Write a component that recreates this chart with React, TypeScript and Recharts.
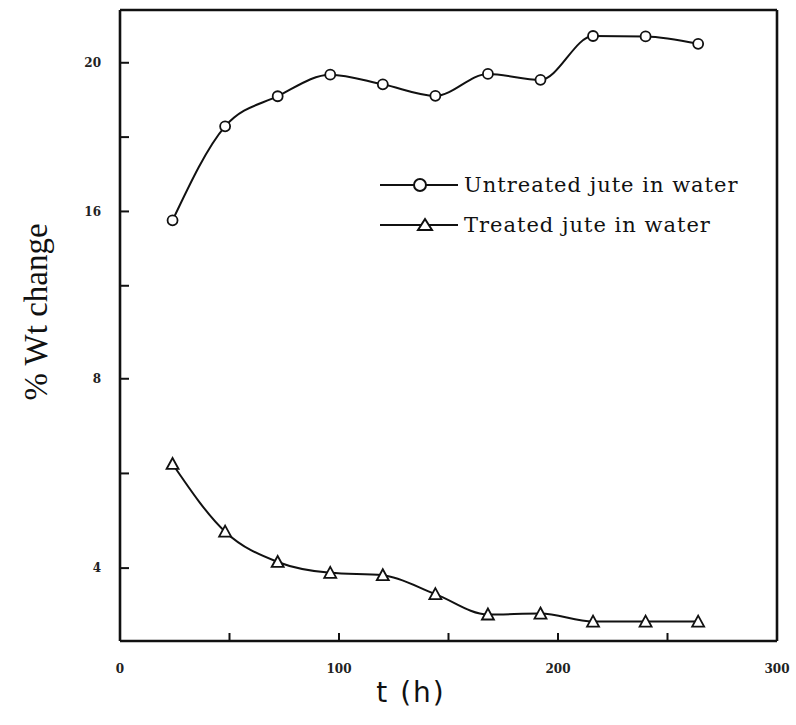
import { LineChart, Line, XAxis, YAxis, Legend } from 'recharts';

// sampling times (h) and % weight change
const hours = [24, 48, 72, 96, 120, 144, 168, 192, 216, 240, 264];
const untreated = [15.76, 18.29, 19.1, 19.68, 19.42, 19.11, 19.7, 19.54, 20.72, 20.71, 20.51];
const treated = [6.2, 4.77, 4.13, 3.9, 3.85, 3.45, 3.02, 3.04, 2.87, 2.87, 2.87];

const xTicks = [0, 50, 100, 150, 200, 250, 300];
const upperTicks = [14, 16, 18, 20];
const lowerTicks = [4, 6, 8];
// the y axis is broken between 14 and 8, so two stacked panels
const upperDomain = [12.81, 21.42];
const lowerDomain = [2.46, 9.03];

const upperData = hours.map((t, i) => ({ t, v: untreated[i] }));
const lowerData = hours.map((t, i) => ({ t, v: treated[i] }));

const INK = '#111';
const axisLine = { stroke: INK, strokeWidth: 2.6 };
const tickLine = { stroke: INK, strokeWidth: 2 };
const tickFont = { fontSize: 12, fill: '#222', fontFamily: 'DejaVu Serif', fontWeight: 700 };

const yLabel = (v: number) => (v % 4 === 0 ? String(v) : '');
const xLabel = (v: number) => (v % 100 === 0 ? String(v) : '');

const CircleDot = (props: any) => {
  const { cx, cy, index } = props;
  if (cx == null || cy == null) return <g key={`c-${index}`} />;
  return <circle key={`c-${index}`} cx={cx} cy={cy} r={5} fill="#fff" stroke={INK} strokeWidth={1.8} />;
};

const TriangleDot = (props: any) => {
  const { cx, cy, index } = props;
  if (cx == null || cy == null) return <g key={`t-${index}`} />;
  return (
    <path
      key={`t-${index}`}
      d={`M${cx},${cy - 6} L${cx + 6},${cy + 5} L${cx - 6},${cy + 5} Z`}
      fill="#fff"
      stroke={INK}
      strokeWidth={1.8}
    />
  );
};

const LegendBox = () => {
  const rows = [
    { name: 'Untreated jute in water', shape: 'circle' },
    { name: 'Treated jute in water', shape: 'triangle' },
  ];
  return (
    <div>
      {rows.map(r => (
        <div key={r.name} style={{ display: 'flex', alignItems: 'center', height: 40 }}>
          <svg width={86} height={20}>
            <line x1={5} x2={83} y1={10} y2={10} stroke={INK} strokeWidth={2} />
            {r.shape === 'circle' ? (
              <circle cx={45} cy={10} r={6} fill="#fff" stroke={INK} strokeWidth={2} />
            ) : (
              <path d="M50,4 L57,15 L43,15 Z" fill="#fff" stroke={INK} strokeWidth={2} />
            )}
          </svg>
          <span
            style={{
              fontFamily: 'DejaVu Serif',
              fontSize: 21,
              letterSpacing: 1,
              color: INK,
              marginLeft: 3,
              whiteSpace: 'nowrap',
            }}
          >
            {r.name}
          </span>
        </div>
      ))}
    </div>
  );
};

export default function App() {
  return (
    <div style={{ position: 'absolute', left: 0, top: 0, width: 796, height: 725, background: '#fff' }}>
      <div style={{ position: 'absolute', left: 0, top: 0 }}>
        <LineChart width={796} height={330} data={upperData} margin={{ top: 0, right: 0, bottom: 0, left: 60 }}>
          <XAxis
            dataKey="t"
            type="number"
            orientation="top"
            height={10}
            domain={[0, 300]}
            ticks={xTicks}
            tick={false}
            tickSize={-8}
            axisLine={axisLine}
            tickLine={tickLine}
          />
          <YAxis
            type="number"
            domain={upperDomain}
            ticks={upperTicks}
            interval={0}
            width={60}
            tickSize={-9}
            tickMargin={28}
            tickFormatter={yLabel}
            tick={tickFont}
            axisLine={axisLine}
            tickLine={tickLine}
          />
          <YAxis
            yAxisId="r"
            orientation="right"
            type="number"
            domain={upperDomain}
            ticks={upperTicks}
            interval={0}
            width={19}
            tickSize={-9}
            tick={false}
            axisLine={axisLine}
            tickLine={tickLine}
          />
          <Legend
            layout="vertical"
            verticalAlign="middle"
            align="center"
            wrapperStyle={{ top: 165, left: 375, right: 'auto', bottom: 'auto', width: 410 }}
            content={() => <LegendBox />}
          />
          <Line
            dataKey="v"
            type="monotone"
            stroke={INK}
            strokeWidth={2}
            dot={CircleDot}
            activeDot={false}
            isAnimationActive={false}
          />
        </LineChart>
      </div>
      <div style={{ position: 'absolute', left: 0, top: 330 }}>
        <LineChart width={796} height={395} data={lowerData} margin={{ top: 0, right: 0, bottom: 9, left: 60 }}>
          <XAxis
            dataKey="t"
            type="number"
            height={75}
            domain={[0, 300]}
            ticks={xTicks}
            interval={0}
            tickSize={-8}
            tickMargin={31}
            tickFormatter={xLabel}
            tick={tickFont}
            axisLine={axisLine}
            tickLine={tickLine}
          />
          <YAxis
            type="number"
            domain={lowerDomain}
            ticks={lowerTicks}
            interval={0}
            width={60}
            tickSize={-9}
            tickMargin={28}
            tickFormatter={yLabel}
            tick={tickFont}
            axisLine={axisLine}
            tickLine={tickLine}
          />
          <YAxis
            yAxisId="r"
            orientation="right"
            type="number"
            domain={lowerDomain}
            ticks={lowerTicks}
            interval={0}
            width={19}
            tickSize={-9}
            tick={false}
            axisLine={axisLine}
            tickLine={tickLine}
          />
          <Line
            dataKey="v"
            type="monotone"
            stroke={INK}
            strokeWidth={2}
            dot={TriangleDot}
            activeDot={false}
            isAnimationActive={false}
          />
        </LineChart>
      </div>
      <svg width={796} height={725} style={{ position: 'absolute', left: 0, top: 0, pointerEvents: 'none' }}>
        <text
          x={36}
          y={312}
          transform="rotate(-90 36 312)"
          textAnchor="middle"
          dominantBaseline="central"
          fontFamily="Liberation Serif"
          fontSize={33}
          fill={INK}
        >
          % Wt change
        </text>
        <text x={411} y={702} textAnchor="middle" fontFamily="DejaVu Sans" fontSize={28} letterSpacing={2} fill={INK}>
          t (h)
        </text>
      </svg>
    </div>
  );
}
